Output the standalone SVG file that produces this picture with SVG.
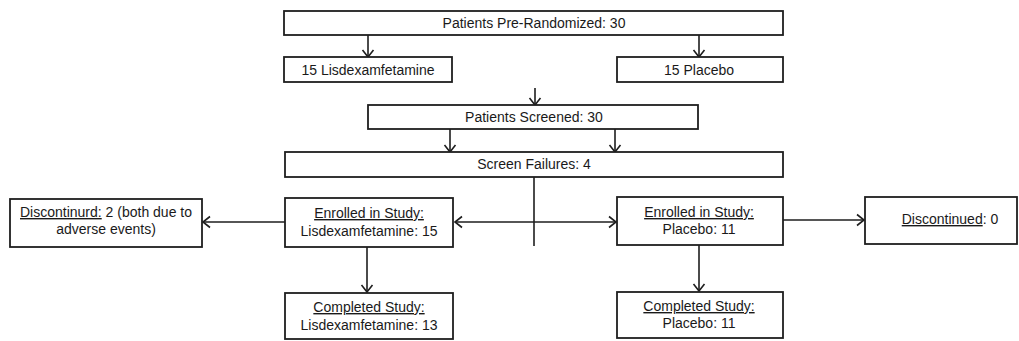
<svg xmlns="http://www.w3.org/2000/svg" width="1019" height="341" viewBox="0 0 1019 341">
  <style>
    .box { fill: #ffffff; stroke: #1e1e1e; stroke-width: 1.8; }
    .lbl { font-family: "Liberation Sans", Arial, sans-serif; font-size: 14px; fill: #1a1a1a; text-anchor: middle; }
    .u { text-decoration: underline; }
    .wire { fill: none; stroke: #1e1e1e; stroke-width: 1.6; }
    .arr { marker-end: url(#head); }
  </style>
  <defs>
    <marker id="head" viewBox="-9 -7 10 14" markerWidth="10" markerHeight="14" refX="0" refY="0" markerUnits="userSpaceOnUse" orient="auto-start-reverse">
      <path d="M-7,-5.5 L0,0 L-7,5.5" fill="none" stroke="#1e1e1e" stroke-width="1.6"/>
    </marker>
  </defs>
  <rect width="1019" height="341" fill="#ffffff"/>

  <g id="connectors">
    <line class="wire arr" x1="368" y1="35" x2="368" y2="57"/>
    <line class="wire arr" x1="699" y1="35" x2="699" y2="57"/>
    <line class="wire arr" x1="535" y1="88" x2="535" y2="105"/>
    <line class="wire arr" x1="450" y1="129" x2="450" y2="152"/>
    <line class="wire arr" x1="615" y1="129" x2="615" y2="152"/>
    <line class="wire" x1="534" y1="177" x2="534" y2="246"/>
    <line class="wire arr" x1="455" y1="222" x2="616" y2="222" marker-start="url(#head)"/>
    <line class="wire arr" x1="285" y1="222" x2="203" y2="222"/>
    <line class="wire arr" x1="783" y1="220" x2="864" y2="220"/>
    <line class="wire arr" x1="367" y1="247" x2="367" y2="292"/>
    <line class="wire arr" x1="699" y1="245" x2="699" y2="291"/>
  </g>

  <g id="pre-randomized">
    <rect class="box" x="284" y="11" width="499" height="24"/>
    <text class="lbl" x="534" y="28">Patients Pre-Randomized: 30</text>
  </g>
  <g id="arm-lisdex">
    <rect class="box" x="284" y="57" width="168" height="25"/>
    <text class="lbl" x="368" y="75">15 Lisdexamfetamine</text>
  </g>
  <g id="arm-placebo">
    <rect class="box" x="617" y="57" width="166" height="25"/>
    <text class="lbl" x="699" y="75">15 Placebo</text>
  </g>
  <g id="screened">
    <rect class="box" x="368" y="105" width="330" height="24"/>
    <text class="lbl" x="534" y="122">Patients Screened: 30</text>
  </g>
  <g id="screen-failures">
    <rect class="box" x="285" y="152" width="498" height="25"/>
    <text class="lbl" x="534" y="169">Screen Failures: 4</text>
  </g>
  <g id="enrolled-lisdex">
    <rect class="box" x="285" y="198" width="168" height="49"/>
    <text class="lbl" x="369" y="218"><tspan class="u">Enrolled in Study:</tspan></text>
    <text class="lbl" x="369" y="236">Lisdexamfetamine: 15</text>
  </g>
  <g id="enrolled-placebo">
    <rect class="box" x="617" y="197" width="166" height="48"/>
    <text class="lbl" x="699" y="217"><tspan class="u">Enrolled in Study:</tspan></text>
    <text class="lbl" x="699" y="234">Placebo: 11</text>
  </g>
  <g id="discontinued-lisdex">
    <rect class="box" x="10" y="199" width="192" height="48"/>
    <text class="lbl" x="106" y="217"><tspan class="u">Discontinurd:</tspan> 2 (both due to</text>
    <text class="lbl" x="106" y="234">adverse events)</text>
  </g>
  <g id="discontinued-placebo">
    <rect class="box" x="865" y="197" width="152" height="47"/>
    <text class="lbl" x="950" y="224"><tspan class="u">Discontinued</tspan>: 0</text>
  </g>
  <g id="completed-lisdex">
    <rect class="box" x="285" y="293" width="168" height="46"/>
    <text class="lbl" x="369" y="312"><tspan class="u">Completed Study:</tspan></text>
    <text class="lbl" x="369" y="330">Lisdexamfetamine: 13</text>
  </g>
  <g id="completed-placebo">
    <rect class="box" x="617" y="292" width="166" height="46"/>
    <text class="lbl" x="699" y="311"><tspan class="u">Completed Study:</tspan></text>
    <text class="lbl" x="699" y="328">Placebo: 11</text>
  </g>
</svg>
